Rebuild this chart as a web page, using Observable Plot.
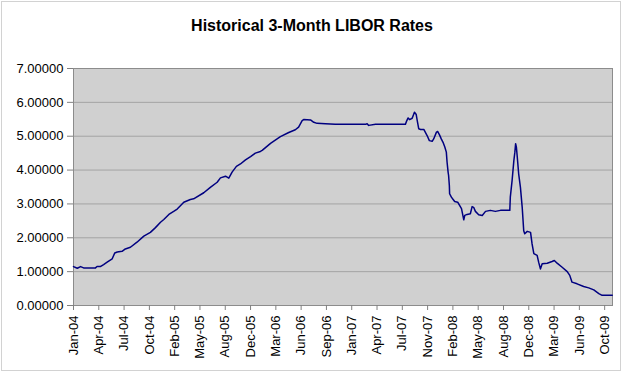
<!DOCTYPE html>
<html>
<head>
<meta charset="utf-8">
<script src="https://cdn.jsdelivr.net/npm/d3@7"></script>
<script src="https://cdn.jsdelivr.net/npm/@observablehq/plot@0.6"></script>
<style>
  html, body { margin: 0; padding: 0; background: #ffffff; }
  #frame { position: absolute; left: 1px; top: 1px; width: 620px; height: 370px; border: 1px solid #d2d2d2; box-sizing: border-box; }
  #chart { position: absolute; left: 0; top: 0; width: 624px; }
  #title { height: 50px; font: bold 16px "Liberation Sans", Arial, sans-serif; line-height: 52px; text-align: center; color: #000; }
</style>
</head>
<body>
<div id="frame"></div>
<div id="chart">
  <div id="title">Historical 3-Month LIBOR Rates</div>
</div>
<script>
// ---- Data ----
const dates = [
  "2004-01-02","2004-01-17","2004-01-30","2004-02-11","2004-03-29","2004-04-04","2004-04-17","2004-04-30","2004-05-14","2004-06-03","2004-06-13","2004-06-23","2004-07-12","2004-07-25","2004-08-14","2004-09-09","2004-10-06","2004-11-01","2004-11-21","2004-12-11","2004-12-24",
  "2005-01-13","2005-02-01","2005-02-15","2005-03-13","2005-04-08","2005-04-21","2005-05-31","2005-06-26","2005-07-23","2005-08-05","2005-08-25","2005-09-07","2005-09-20","2005-10-07","2005-10-23","2005-11-12","2005-12-02","2005-12-21",
  "2006-01-10","2006-01-17","2006-02-19","2006-03-30","2006-05-02","2006-05-28","2006-06-10","2006-06-24","2006-06-30","2006-07-27","2006-08-09","2006-08-22","2006-09-24","2006-11-02",
  "2007-01-20","2007-03-01","2007-03-08","2007-03-14","2007-04-10","2007-08-06","2007-08-10","2007-08-17","2007-08-23","2007-09-02","2007-09-11","2007-09-18","2007-09-22","2007-09-28","2007-10-05","2007-10-18","2007-10-31","2007-11-09","2007-11-20","2007-11-26","2007-12-07","2007-12-12","2007-12-19","2007-12-26",
  "2008-01-02","2008-01-09","2008-01-15","2008-01-18","2008-01-22","2008-01-24","2008-01-27","2008-01-28","2008-02-04","2008-02-11","2008-02-17","2008-02-29","2008-03-08","2008-03-15","2008-03-24","2008-03-28","2008-04-06","2008-04-19","2008-04-26","2008-05-02","2008-05-09","2008-05-22","2008-06-05","2008-06-18","2008-07-07","2008-07-27","2008-08-16","2008-09-22","2008-09-24","2008-10-01","2008-10-08","2008-10-12","2008-10-15","2008-10-18","2008-10-21","2008-10-27","2008-11-03","2008-11-10","2008-11-16","2008-11-20","2008-11-30","2008-12-13","2008-12-19","2008-12-26",
  "2009-01-08","2009-01-14","2009-01-21","2009-01-28","2009-02-17","2009-03-08","2009-03-17","2009-03-28","2009-04-17","2009-05-07","2009-05-17","2009-05-26","2009-06-15","2009-07-11","2009-07-31","2009-08-20","2009-09-09","2009-09-22","2009-11-01"
];
const rates = [
  1.15,1.10,1.15,1.11,1.11,1.15,1.15,1.21,1.28,1.38,1.55,1.58,1.60,1.67,1.72,1.87,2.05,2.16,2.30,2.46,2.54,
  2.69,2.78,2.85,3.05,3.13,3.15,3.33,3.49,3.64,3.77,3.82,3.76,3.94,4.11,4.18,4.30,4.40,4.50,
  4.55,4.58,4.79,4.99,5.11,5.19,5.27,5.46,5.49,5.48,5.41,5.38,5.37,5.35,
  5.35,5.35,5.37,5.32,5.35,5.35,5.43,5.54,5.49,5.53,5.71,5.64,5.46,5.22,5.20,5.20,5.02,4.87,4.85,4.92,5.12,5.14,5.04,4.92,
  4.82,4.68,4.53,4.23,3.94,3.84,3.54,3.30,3.20,3.13,3.07,3.05,2.95,2.86,2.53,2.66,2.69,2.71,2.92,2.90,2.78,2.68,2.66,2.78,2.81,2.78,2.81,2.81,3.20,3.69,4.28,4.53,4.78,4.68,4.43,3.89,3.49,2.90,2.21,2.12,2.19,2.16,1.82,1.53,
  1.48,1.28,1.08,1.23,1.25,1.30,1.33,1.25,1.13,1.00,0.89,0.69,0.64,0.56,0.52,0.46,0.35,0.30,0.30
];
// category-axis tick dates (labels Jan-04 ... Oct-09)
const tickDates = [
  "2004-01-02","2004-04-11","2004-07-20","2004-10-28","2005-02-05","2005-05-16","2005-08-24","2005-12-02",
  "2006-03-12","2006-06-20","2006-09-28","2007-01-06","2007-04-16","2007-07-25","2007-11-02","2008-02-10",
  "2008-05-20","2008-08-28","2008-12-06","2009-03-16","2009-06-24","2009-10-02"
];
const xRange = ["2004-01-02", "2009-11-02"];
const yTicks = [0, 1, 2, 3, 4, 5, 6, 7];
const gridValues = [1, 2, 3, 4, 5, 6];

// ---- Build ----
const parse = d3.utcParse("%Y-%m-%d");
const data = dates.map((d, i) => ({date: parse(d), rate: rates[i]}));

const chart = Plot.plot({
  width: 624,
  height: 325,
  marginTop: 18,
  marginBottom: 70,
  marginLeft: 73,
  marginRight: 12,
  style: {fontFamily: "'Liberation Sans', Arial, sans-serif", fontSize: "13px", color: "#000", background: "transparent", overflow: "visible"},
  x: {type: "utc", domain: xRange.map(parse)},
  y: {domain: [0, 7]},
  marks: [
    Plot.frame({fill: "#d0d0d0", stroke: "none"}),
    Plot.ruleY(gridValues, {stroke: "#a3a3a3", strokeWidth: 1}),
    Plot.frame({stroke: "#8c8c8c"}),
    Plot.axisY(yTicks, {tickFormat: d => d.toFixed(5), tickSize: 6, tickPadding: 4, stroke: "#808080", fill: "#000", label: null}),
    Plot.axisX(tickDates.map(parse), {tickFormat: d3.utcFormat("%b-%y"), tickRotate: -90, tickSize: 5, tickPadding: 5, stroke: "#808080", fill: "#000", label: null}),
    Plot.lineY(data, {x: "date", y: "rate", stroke: "#000080", strokeWidth: 1.5})
  ]
});
document.getElementById("chart").appendChild(chart);
</script>
</body>
</html>
